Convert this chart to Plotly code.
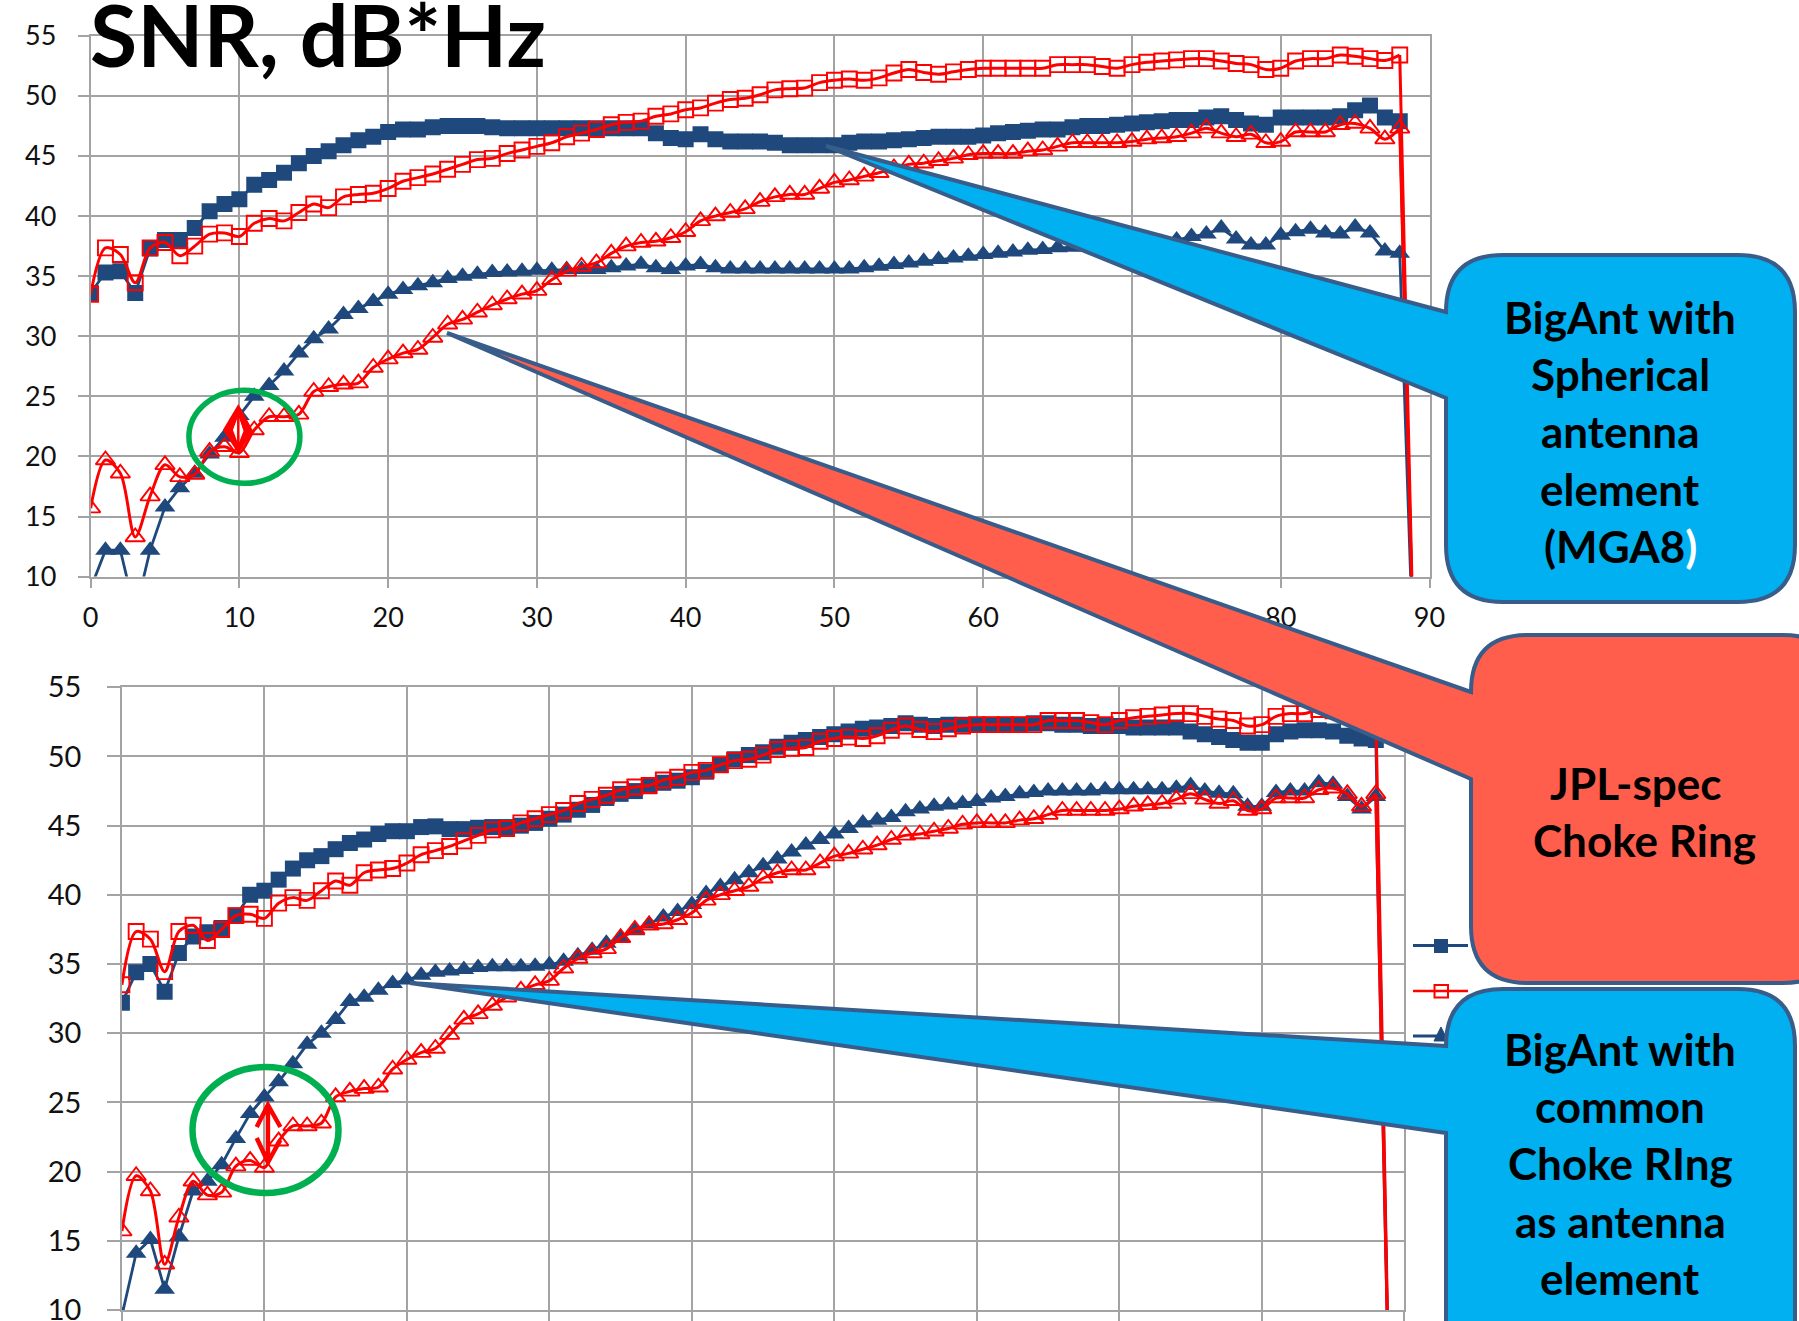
import plotly.graph_objects as go

W, H = 1799, 1321

# elevation angle, degrees (last sample is where tracking is lost)
elevation = list(range(90))

# --- upper panel: BigAnt with spherical element (MGA8) vs JPL-spec choke ring ---
snr_sph_s1 = [33.6, 35.3, 35.4, 33.6, 37.3, 38.0, 38.0, 39.0, 40.4, 41.0,
              41.4, 42.6, 43.0, 43.6, 44.4, 45.0, 45.4, 45.9, 46.3, 46.6,
              47.0, 47.2, 47.2, 47.4, 47.5, 47.5, 47.5, 47.4, 47.3, 47.3,
              47.3, 47.3, 47.3, 47.3, 47.3, 47.3, 47.3, 47.3, 46.9, 46.5,
              46.4, 46.8, 46.4, 46.2, 46.2, 46.2, 46.1, 45.9, 45.9, 45.9,
              45.9, 46.1, 46.2, 46.2, 46.3, 46.4, 46.5, 46.6, 46.6, 46.6,
              46.7, 46.9, 47.0, 47.1, 47.2, 47.2, 47.4, 47.5, 47.5, 47.6,
              47.7, 47.8, 47.9, 48.0, 48.0, 48.2, 48.3, 48.0, 47.7, 47.6,
              48.2, 48.2, 48.2, 48.2, 48.3, 48.8, 49.2, 48.2, 47.9, 0.0]

snr_sph_s2 = [9.0, 12.2, 12.2, 7.0, 12.2, 15.8, 17.4, 18.6, 20.2, 21.6,
              23.4, 25.0, 25.9, 27.1, 28.6, 29.8, 30.6, 31.8, 32.3, 32.9,
              33.5, 33.9, 34.2, 34.45, 34.8, 35.0, 35.15, 35.3, 35.35, 35.4,
              35.5, 35.5, 35.55, 35.55, 35.55, 35.7, 35.85, 36.0, 35.7, 35.55,
              35.85, 35.97, 35.69, 35.6, 35.6, 35.6, 35.6, 35.6, 35.6, 35.6,
              35.6, 35.6, 35.7, 35.83, 35.97, 36.1, 36.24, 36.38, 36.52, 36.66,
              36.8, 36.9, 37.0, 37.16, 37.22, 37.36, 37.4, 37.45, 37.5, 37.5,
              37.5, 37.6, 37.8, 38.0, 38.3, 38.5, 39.0, 38.1, 37.6, 37.6,
              38.4, 38.7, 38.9, 38.6, 38.5, 39.1, 38.6, 37.1, 36.9, 0.0]

# --- JPL-spec choke ring, shown in both panels ---
snr_jpl_s1 = [33.5, 37.35, 36.8, 34.45, 37.35, 37.8, 36.7, 37.5, 38.5, 38.6,
              38.3, 39.4, 39.8, 39.6, 40.3, 41.0, 40.7, 41.6, 41.8, 41.9,
              42.3, 42.9, 43.2, 43.5, 43.9, 44.3, 44.7, 44.8, 45.2, 45.5,
              45.8, 46.1, 46.6, 46.9, 47.2, 47.6, 47.8, 47.9, 48.3, 48.5,
              48.85, 49.0, 49.4, 49.7, 49.8, 50.1, 50.5, 50.6, 50.65, 51.1,
              51.3, 51.4, 51.3, 51.5, 51.9, 52.2, 51.95, 51.8, 52.0, 52.2,
              52.3, 52.3, 52.3, 52.3, 52.3, 52.6, 52.6, 52.6, 52.45, 52.3,
              52.6, 52.8, 52.9, 53.0, 53.1, 53.1, 52.9, 52.7, 52.6, 52.2,
              52.3, 52.9, 53.1, 53.1, 53.4, 53.3, 53.1, 52.95, 53.4, 0.0]

snr_jpl_s2 = [15.7, 19.7, 18.6, 13.3, 16.7, 19.3, 18.3, 18.5, 20.4, 20.8,
              20.3, 22.2, 23.3, 23.3, 23.5, 25.4, 25.8, 26.0, 26.1, 27.4,
              28.1, 28.6, 28.9, 29.9, 31.0, 31.4, 32.0, 32.6, 33.1, 33.5,
              33.8, 34.7, 35.4, 35.8, 36.1, 36.9, 37.5, 37.8, 37.9, 38.2,
              38.7, 39.6, 40.0, 40.3, 40.6, 41.2, 41.6, 41.8, 41.8, 42.3,
              42.8, 43.0, 43.3, 43.6, 44.0, 44.3, 44.4, 44.6, 44.8, 45.1,
              45.2, 45.2, 45.2, 45.4, 45.5, 45.8, 46.1, 46.1, 46.1, 46.1,
              46.2, 46.4, 46.5, 46.6, 46.9, 47.3, 46.9, 46.6, 46.8, 46.1,
              46.2, 47.0, 47.0, 47.0, 47.6, 47.7, 47.3, 46.4, 47.3, 0.0]

# --- lower panel: BigAnt with common choke ring element ---
snr_ccr_s1 = [32.2, 34.4, 35.0, 33.0, 35.8, 37.0, 37.3, 37.6, 38.5, 40.0,
              40.3, 41.1, 41.9, 42.5, 42.8, 43.3, 43.75, 44.0, 44.4, 44.6,
              44.6, 44.9, 44.95, 44.75, 44.75, 44.85, 44.9, 44.9, 45.0, 45.2,
              45.5, 45.8, 46.15, 46.5, 47.0, 47.3, 47.5, 47.85, 48.1, 48.25,
              48.5, 48.9, 49.4, 49.8, 50.1, 50.3, 50.7, 51.0, 51.2, 51.4,
              51.6, 51.8, 52.0, 52.1, 52.2, 52.4, 52.3, 52.2, 52.3, 52.3,
              52.3, 52.3, 52.3, 52.3, 52.4, 52.4, 52.3, 52.3, 52.2, 52.2,
              52.2, 52.1, 52.1, 52.1, 52.1, 51.8, 51.6, 51.4, 51.2, 51.0,
              51.0, 51.6, 51.8, 51.9, 51.9, 51.8, 51.5, 51.3, 51.2, 0.0]

snr_ccr_s2 = [9.6, 14.1, 15.1, 11.5, 15.3, 18.6, 19.3, 20.5, 22.4, 24.2,
              25.4, 26.5, 27.8, 29.2, 30.0, 31.0, 32.3, 32.6, 33.1, 33.6,
              33.85, 34.2, 34.4, 34.5, 34.6, 34.75, 34.8, 34.8, 34.8, 34.85,
              34.95, 35.2, 35.6, 36.0, 36.5, 36.9, 37.4, 37.9, 38.4, 38.8,
              39.3, 40.1, 40.6, 41.1, 41.6, 42.1, 42.6, 43.1, 43.6, 44.0,
              44.4, 44.8, 45.2, 45.4, 45.6, 46.0, 46.2, 46.4, 46.5, 46.6,
              46.75, 47.0, 47.1, 47.3, 47.4, 47.5, 47.5, 47.5, 47.5, 47.6,
              47.6, 47.6, 47.6, 47.6, 47.7, 47.9, 47.5, 47.35, 47.3, 46.4,
              46.4, 47.4, 47.5, 47.5, 48.1, 48.0, 47.1, 46.2, 47.1, 0.0]

x_ticks = list(range(0, 91, 10))
y_ticks = list(range(10, 56, 5))

BLUE = "#1F497D"
RED = "#FF0000"
GRID = "#A3A3A3"
OUTLINE = "#385D8A"
CYAN = "#00B0F0"
CORAL = "#FF5E4D"
GREEN = "#00B050"
FONT = "Lato"


def to_paper(x, y):
    """Pixel position on the page -> paper coordinates."""
    return x / W, 1 - y / H


def pt(x, y):
    X, Y = to_paper(x, y)
    return f"{X:.5f},{Y:.5f}"


fig = go.Figure()


def add_panel(xa, ya, blue_sq, blue_tri):
    series = [
        (blue_sq, BLUE, "square", 16, False),
        (snr_jpl_s1, RED, "square-open", 15, True),
        (blue_tri, BLUE, "triangle-up", 18, False),
        (snr_jpl_s2, RED, "triangle-up-open", 17, True),
    ]
    for ys, color, sym, size, smooth in series:
        n = len(ys) - 1  # final sample: signal lost
        if smooth:
            fig.add_trace(go.Scatter(
                x=elevation[:n], y=ys[:n], mode="lines+markers",
                line=dict(color=color, width=3, shape="spline", smoothing=0.9),
                marker=dict(symbol=sym, size=size, color=color, line=dict(width=1.9, color=color)),
                xaxis=xa, yaxis=ya, showlegend=False, hoverinfo="skip"))
            fig.add_trace(go.Scatter(
                x=elevation[n - 1:], y=ys[n - 1:], mode="lines",
                line=dict(color=color, width=3),
                xaxis=xa, yaxis=ya, showlegend=False, hoverinfo="skip"))
        else:
            fig.add_trace(go.Scatter(
                x=elevation, y=ys, mode="lines+markers",
                line=dict(color=color, width=2.8),
                marker=dict(symbol=sym, size=size, color=color, line=dict(width=0)),
                xaxis=xa, yaxis=ya, showlegend=False, hoverinfo="skip"))


add_panel("x", "y", snr_sph_s1, snr_sph_s2)
add_panel("x2", "y2", snr_ccr_s1, snr_ccr_s2)

axis_style = dict(showgrid=True, gridcolor=GRID, gridwidth=1.5,
                  showline=True, linecolor=GRID, linewidth=1.5, mirror=True,
                  ticks="outside", tickcolor=GRID, tickwidth=1.5, zeroline=False,
                  automargin=False, ticklabeloverflow="allow")

fig.update_layout(
    width=W, height=H,
    margin=dict(l=0, r=0, t=0, b=0, pad=0),
    paper_bgcolor="white", plot_bgcolor="white",
    hovermode=False,
    xaxis=dict(domain=[90.6 / W, 1429.5 / W], range=[0, 90], tickvals=x_ticks,
               anchor="y", ticklen=10, ticklabelstandoff=6,
               tickfont=dict(family=FONT, size=27, color="#111111"), **axis_style),
    yaxis=dict(domain=[1 - 576.6 / H, 1 - 35.8 / H], range=[10, 55], tickvals=y_ticks,
               anchor="x", ticklen=11, ticklabelstandoff=16,
               tickfont=dict(family=FONT, size=27, color="#111111"), **axis_style),
    # the lower panel's elevation labels fall below the page edge
    xaxis2=dict(domain=[121.9 / W, 1404.3 / W], range=[0, 90], tickvals=x_ticks,
                anchor="y2", ticklen=10, showticklabels=False, **axis_style),
    yaxis2=dict(domain=[1 - 1310.0 / H, 1 - 687.3 / H], range=[10, 55], tickvals=y_ticks,
                anchor="x2", ticklen=13, ticklabelstandoff=20,
                tickfont=dict(family=FONT, size=29, color="#111111"), **axis_style),
)

shapes = []

# legend keys of the lower panel (mostly hidden behind the callouts)
def seg(x0, y0, x1, y1, color, width):
    a, b = to_paper(x0, y0)
    c, d = to_paper(x1, y1)
    return dict(type="line", xref="paper", yref="paper", x0=a, y0=b, x1=c, y1=d,
                line=dict(color=color, width=width), layer="above")


def box(x0, y0, x1, y1, line_color, fill, width):
    a, b = to_paper(x0, y1)
    c, d = to_paper(x1, y0)
    return dict(type="rect", xref="paper", yref="paper", x0=a, y0=b, x1=c, y1=d,
                line=dict(color=line_color, width=width), fillcolor=fill, layer="above")


shapes.append(seg(1413, 945.5, 1468, 945.5, BLUE, 3))
shapes.append(box(1434, 939, 1448, 953, BLUE, BLUE, 0))
shapes.append(seg(1413, 991, 1468, 991, RED, 2.5))
shapes.append(box(1434.5, 985, 1448, 997.5, RED, "rgba(0,0,0,0)", 2))
shapes.append(seg(1413, 1036, 1460, 1036, BLUE, 3))
shapes.append(dict(type="path", xref="paper", yref="paper",
                   path=f"M{pt(1441, 1027)} L{pt(1448, 1041)} L{pt(1434, 1041)} Z",
                   fillcolor=BLUE, line=dict(color=BLUE, width=1), layer="above"))


# green highlight rings around the 10-degree gap
def ring(cx, cy, rx, ry, width):
    a, b = to_paper(cx - rx, cy + ry)
    c, d = to_paper(cx + rx, cy - ry)
    return dict(type="circle", xref="paper", yref="paper", x0=a, y0=b, x1=c, y1=d,
                line=dict(color=GREEN, width=width), fillcolor="rgba(0,0,0,0)", layer="above")


shapes.append(ring(244.4, 436.8, 55.5, 46.5, 5.5))
shapes.append(ring(265.5, 1130, 73, 63, 6.5))

# red double arrows marking the gap
shapes.append(dict(type="path", xref="paper", yref="paper",
                   path=f"M{pt(238.3, 406)} L{pt(224, 430)} L{pt(238.3, 452)} L{pt(252, 431)} Z",
                   fillcolor=RED, line=dict(color=RED, width=2), layer="above"))
shapes.append(dict(type="path", xref="paper", yref="paper",
                   path=f"M{pt(238.3, 417)} L{pt(233.5, 430)} L{pt(238.3, 443)} L{pt(243, 431)} Z",
                   fillcolor="white", line=dict(color="white", width=1), layer="above"))
shapes.append(seg(238.3, 414, 238.3, 447, RED, 2.5))
shapes.append(dict(type="path", xref="paper", yref="paper",
                   path=(f"M{pt(267.9, 1107)} L{pt(267.9, 1160)} "
                         f"M{pt(256.7, 1127)} L{pt(267.9, 1105)} L{pt(280.4, 1127)} "
                         f"M{pt(256.7, 1138)} L{pt(267.9, 1162)} L{pt(280.4, 1140)}"),
                   line=dict(color=RED, width=4.5), layer="above"))


def callout(left, top, right, bottom, r, tip, attach_low, fill):
    path = (f"M{pt(left, top + r)} L{pt(*tip)} L{pt(left, attach_low)} "
            f"L{pt(left, bottom - r)} Q{pt(left, bottom)} {pt(left + r, bottom)} "
            f"L{pt(right - r, bottom)} Q{pt(right, bottom)} {pt(right, bottom - r)} "
            f"L{pt(right, top + r)} Q{pt(right, top)} {pt(right - r, top)} "
            f"L{pt(left + r, top)} Q{pt(left, top)} {pt(left, top + r)} Z")
    return dict(type="path", xref="paper", yref="paper", path=path,
                fillcolor=fill, line=dict(color=OUTLINE, width=4), layer="above")


shapes.append(callout(1446, 255, 1795, 602, 57, (826, 146), 398, CYAN))
shapes.append(callout(1471, 635, 1840, 983, 57, (447, 333), 779, CORAL))
shapes.append(callout(1446, 989, 1795, 1380, 57, (410, 983), 1133, CYAN))

fig.update_layout(shapes=shapes)

annotations = []


def label(text, x, y, size, anchor="center"):
    X, Y = to_paper(x, y)
    annotations.append(dict(text=text, x=X, y=Y, xref="paper", yref="paper",
                            xanchor=anchor, yanchor="middle", showarrow=False,
                            font=dict(family=FONT, size=size, color="black", weight="bold")))


label("SNR, dB*Hz", 88, 33, 86, anchor="left")

for i, line in enumerate(["BigAnt with", "Spherical", "antenna", "element",
                          "(MGA8<span style='color:white'>)</span>"]):
    label(line, 1620, 316.7 + i * 57.4, 44)

label("JPL-spec", 1636, 782.5, 44)
label("Choke Ring", 1644, 839.8, 44)

for i, line in enumerate(["BigAnt with", "common", "Choke RIng", "as antenna", "element"]):
    label(line, 1620, 1048.6 + i * 57.4, 44)

fig.update_layout(annotations=annotations)

fig.write_html("out.html")
